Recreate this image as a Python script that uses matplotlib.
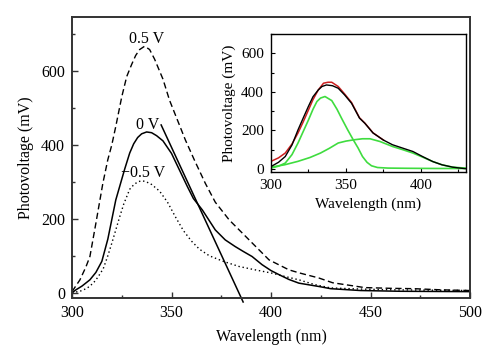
import numpy as np
import matplotlib.pyplot as plt
from matplotlib.ticker import MultipleLocator

plt.rcParams['font.family'] = ['Liberation Serif', 'DejaVu Serif']

# ---- main panel data ----
wl_pos = [300, 304, 307, 309, 312, 315.5, 318, 320, 322, 325, 327.5, 330, 332, 334, 336.5,
          339, 341.5, 345.7, 349, 353, 357, 361.5, 367, 372, 379, 389, 399, 409, 414,
          424, 431, 447, 460, 472, 485, 500]
pv_pos = [3, 35, 70, 98, 188, 296, 360, 400, 450, 530, 585, 618, 642, 658, 667,
          658, 632, 578, 521, 467, 413, 359, 296, 245, 197, 143, 89, 62, 54,
          40, 27, 14, 12, 11, 8, 6]

wl_zero = [300, 302, 305, 309, 312, 315, 318, 322, 326.5, 329, 331, 333, 335, 337.5, 340,
           342.5, 345.7, 350, 354, 358, 361, 365.5, 372, 377, 382, 386, 390.5, 395.5, 400,
           404, 409, 414, 424, 430, 445, 465, 500]
pv_zero = [0, 8, 18, 35, 55, 85, 145, 251, 335, 378, 403, 420, 430, 435, 433,
           425, 411, 377, 332, 287, 255, 224, 170, 143, 125, 112, 98, 76, 60,
           49, 36, 26, 17, 11, 6, 4, 3]

wl_neg = [300, 304, 307.5, 310.7, 313, 315.7, 318, 320, 322, 324, 326, 329, 331, 333, 335,
          337, 340, 344, 348, 352, 356, 360, 364, 369, 376, 384, 392, 400.5, 407,
          414, 422, 430, 445, 460, 480, 500]
pv_neg = [0, 4, 12, 26, 42, 65, 100, 134, 170, 206, 240, 280, 292, 300, 303,
          301, 293, 275, 245, 205, 168, 140, 118, 100, 85, 71, 62, 53, 44,
          35, 22, 13, 10, 8, 7, 6]

# tangent line end points
tan_wl = [344.8, 386]
tan_pv = [454, -25]

# ---- inset data ----
wl_meas = [300, 305, 309.5, 314, 318, 321.5, 325, 328, 331.5, 334, 337, 341, 344.8, 349,
           353.7, 359, 362.6, 368, 375, 381, 388, 394.6, 401, 407.8, 414, 421, 425, 429.5]
pv_meas = [13, 35, 65, 125, 203, 265, 326, 375, 410, 428, 436, 432, 419, 385,
           341, 264, 237, 187, 150, 126, 108, 91, 65, 39, 22, 10, 6, 2]

wl_fit = [300, 305, 309.5, 314, 318, 321.5, 325, 328, 331.5, 335, 338, 340.5, 344.8, 349,
          353.7, 359, 362.6, 368, 375]
pv_fit = [40, 58, 83, 130, 187, 245, 307, 360, 410, 445, 450, 450, 428, 390,
          345, 266, 238, 188, 150]

wl_g1 = [300, 305, 309.5, 314, 318, 321.5, 325, 328, 330.6, 333, 336, 340.5, 344, 347,
         351, 354.8, 358, 361, 364, 367, 371, 378, 390, 410, 429.5]
pv_g1 = [5, 15, 31, 75, 135, 195, 255, 310, 350, 368, 376, 355, 310, 264,
         205, 152, 110, 65, 35, 17, 8, 5, 4, 3, 3]

wl_g2 = [300, 309, 318, 326, 333, 339, 344.8, 350, 355.7, 361, 366, 372.6, 381, 388,
         394.6, 401, 407.8, 414, 421, 429.5]
pv_g2 = [10, 22, 40, 60, 83, 108, 135, 145, 152, 157, 157, 143, 117, 100,
         83, 62, 39, 22, 10, 5]

curve_labels = ['0.5 V', '0 V', '\u22120.5 V']
label_xy = [(337.5, 686), (337.8, 455), (335.5, 325)]

spine_col = '#333333'

fig = plt.figure(figsize=(5, 3.62), dpi=100)
ax = fig.add_axes([0.144, 0.177, 0.796, 0.776])

ax.plot(wl_pos, pv_pos, color='black', lw=1.0, dashes=(4.5, 2.5))
ax.plot(wl_zero, pv_zero, color='black', lw=1.1)
ax.plot(wl_neg, pv_neg, color='black', lw=1.0, dashes=(1, 2))
ax.plot(tan_wl, tan_pv, color='black', lw=1.1, clip_on=False)

for txt, (x, y) in zip(curve_labels, label_xy):
    ax.text(x, y, txt, ha='center', va='center', fontsize=11.5)

ax.set_xlim(300, 500)
ax.set_ylim(-14, 746)
ax.xaxis.set_major_locator(MultipleLocator(50))
ax.xaxis.set_minor_locator(MultipleLocator(25))
ax.yaxis.set_major_locator(MultipleLocator(200))
ax.yaxis.set_minor_locator(MultipleLocator(100))
ax.tick_params(which='both', direction='in', colors=spine_col, labelcolor='black',
               labelsize=11.5, width=1.0)
ax.tick_params(which='major', length=4, pad=5)
ax.tick_params(which='minor', length=2.5)
for s in ax.spines.values():
    s.set_color(spine_col)
    s.set_linewidth(1.4)
ax.set_xlabel('Wavelength (nm)', fontsize=11.5)
ax.set_ylabel('Photovoltage (mV)', fontsize=11.5)
ax.xaxis.set_label_coords(0.5, -0.11)
ax.yaxis.set_label_coords(-0.095, 0.5)

# ---- inset ----
ins = fig.add_axes([0.542, 0.525, 0.39, 0.381])
green = '#3fdc3f'
ins.plot(wl_g1, pv_g1, color=green, lw=1.2)
ins.plot(wl_g2, pv_g2, color=green, lw=1.2)
ins.plot(wl_fit, pv_fit, color='#cc1f1f', lw=1.1)
ins.plot(wl_meas, pv_meas, color='black', lw=1.0)

ins.set_xlim(300, 430)
ins.set_ylim(-15, 700)
ins.xaxis.set_major_locator(MultipleLocator(50))
ins.xaxis.set_minor_locator(MultipleLocator(25))
ins.yaxis.set_major_locator(MultipleLocator(200))
ins.yaxis.set_minor_locator(MultipleLocator(100))
ins.tick_params(which='both', direction='in', labelsize=11, width=0.8)
ins.tick_params(which='major', length=3, pad=5)
ins.tick_params(which='minor', length=2)
for s in ins.spines.values():
    s.set_linewidth(1.0)
ins.set_xlabel('Wavelength (nm)', fontsize=11)
ins.set_ylabel('Photovoltage (mV)', fontsize=11)

fig.savefig('out.png', dpi=100)
